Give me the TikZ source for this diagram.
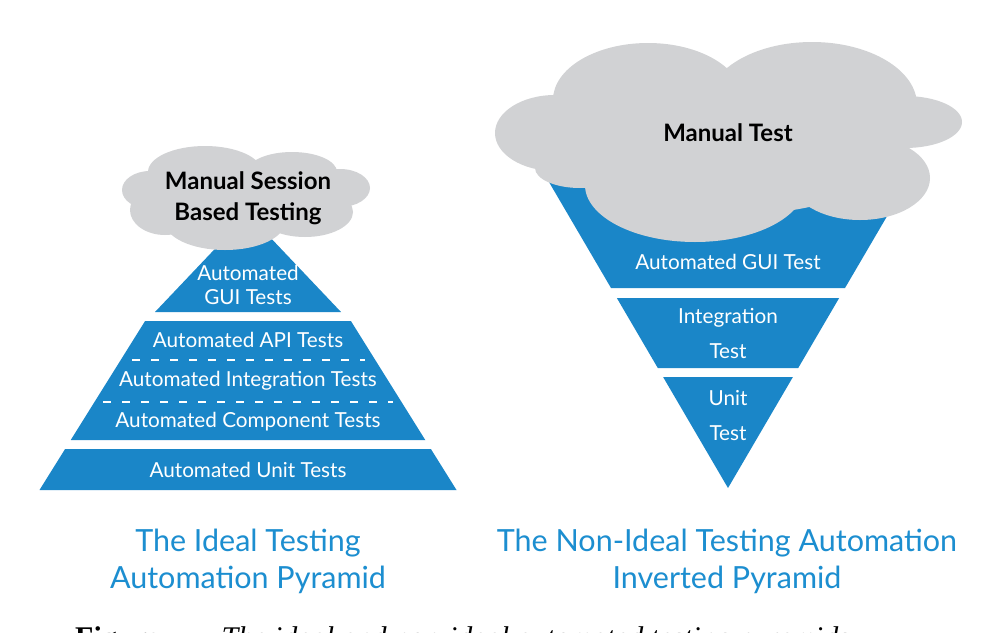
\documentclass[tikz,border=0pt]{standalone}
\usepackage{fontspec}
\setmainfont{Lato}
\newfontfamily\capfont{Liberation Serif}
\definecolor{pyrblue}{RGB}{26,134,200}
\definecolor{titleblue}{RGB}{28,142,208}
\definecolor{cloudgray}{RGB}{209,210,212}
\begin{document}
\begin{tikzpicture}[x=1pt,y=-1pt,
  tier/.style={fill=pyrblue, draw=none},
  puff/.style={fill=cloudgray, draw=none},
  lbl/.style={text=white, font=\fontsize{20.7}{24}\selectfont, inner sep=0pt, align=center},
  cloudlbl/.style={text=black, font=\bfseries\fontsize{24}{31}\selectfont, inner sep=0pt, align=center},
  title/.style={text=titleblue, font=\fontsize{30.5}{37}\selectfont, inner sep=0pt, align=center},
  sepline/.style={white, line width=1.8pt, dash pattern=on 8pt off 11pt}]
\useasboundingbox[fill=white] (0,0) rectangle (995,632);

% ---------- ideal pyramid ----------
\fill[tier] (155,312) -- (248,214) -- (341,312) -- cycle;
\fill[tier] (145.1,321) -- (350.9,321) -- (425.25,440) -- (70.75,440) -- cycle;
\fill[tier] (65.1,449) -- (430.9,449) -- (456.5,490) -- (39.5,490) -- cycle;
\coordinate (d1a) at (132,360); \coordinate (d1b) at (365,360);
\coordinate (d2a) at (103,402); \coordinate (d2b) at (393,402);
\draw[sepline] (d1a) -- (d1b);
\draw[sepline] (d2a) -- (d2b);

% cloud left
\fill[puff] (247,195) ellipse [x radius=100, y radius=35];
\fill[puff] (150,190) ellipse [x radius=28, y radius=19];
\fill[puff] (205,172) ellipse [x radius=57, y radius=26];
\fill[puff] (292,172) ellipse [x radius=45, y radius=20];
\fill[puff] (340,188) ellipse [x radius=30, y radius=19];
\fill[puff] (305,212) ellipse [x radius=48, y radius=25];
\fill[puff] (225,222) ellipse [x radius=60, y radius=28];
\fill[puff] (165,210) ellipse [x radius=35, y radius=25];

% ---------- inverted pyramid ----------
\fill[tier] (539,165) -- (917,165) -- (845,288) -- (611,288) -- cycle;
\fill[tier] (616.85,298) -- (839.15,298) -- (798.2,368) -- (657.8,368) -- cycle;
\fill[tier] (663.1,377) -- (792.9,377) -- (728,488) -- cycle;

% cloud right
\fill[puff] (728,145) ellipse [x radius=175, y radius=70];
\fill[puff] (555,133) ellipse [x radius=60, y radius=38];
\fill[puff] (648,100) ellipse [x radius=95, y radius=57];
\fill[puff] (812,105) ellipse [x radius=105, y radius=63];
\fill[puff] (905,122) ellipse [x radius=57, y radius=26];
\fill[puff] (860,178) ellipse [x radius=70, y radius=42];
\fill[puff] (695,185) ellipse [x radius=110, y radius=57];
\fill[puff] (580,168) ellipse [x radius=45, y radius=20];

% ---------- labels ----------
\node[cloudlbl] (ms) at (248,198) {Manual Session\\Based Testing};
\node[cloudlbl] (mt) at (728,133) {Manual Test};

\node[lbl] (gui) at (248,285) {Automated\\GUI Tests};
\node[lbl] (api) at (248,340) {Automated API Tests};
\node[lbl] (int) at (248,381) {Automated Integration Tests};
\node[lbl] (comp) at (248,422) {Automated Component Tests};
\node[lbl] (unit) at (248,470) {Automated Unit Tests};

\node[lbl] (rgui) at (728,262) {Automated GUI Test};
\node[lbl, font=\fontsize{20.7}{35}\selectfont] (rint) at (728,333) {Integration\\Test};
\node[lbl, font=\fontsize{20.7}{35}\selectfont] (runit) at (728,416) {Unit\\Test};

\node[title] (t1) at (248,561) {The Ideal Testing\\Automation Pyramid};
\node[title] (t2) at (727,561) {The Non-Ideal Testing Automation\\Inverted Pyramid};

\node[anchor=north west, inner sep=0pt, font=\capfont\fontsize{30}{36}\selectfont] (cap) at (75,626)
  {\textbf{Figure}\hspace{62pt}\textit{The ideal and non-ideal automated testing pyramids}};
\end{tikzpicture}
\end{document}
